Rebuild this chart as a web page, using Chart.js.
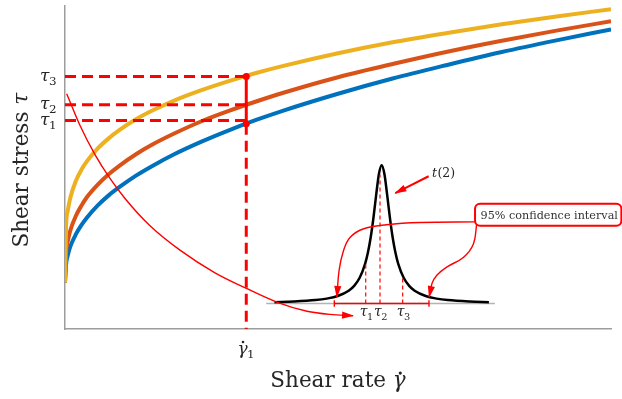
<!DOCTYPE html>
<html>
<head>
<meta charset="utf-8">
<script src="https://cdn.jsdelivr.net/npm/chart.js@4.4.1/dist/chart.umd.min.js"></script>
<style>
  html, body { margin: 0; padding: 0; background: #fff; }
  canvas { display: block; }
</style>
</head>
<body>
<canvas id="chart" width="622" height="399"></canvas>
<script>
// shear rate samples (axis runs 0..100)
const shearRate = [0, 0.2, 0.5, 1, 2, 3, 4, 6, 8, 10, 13, 16, 20, 25, 30, 35, 40, 50, 60, 70, 80, 90, 100];
// shear stress along the three flow curves (axis runs 0..100)
const stressUpper = [14.4, 31.9, 36.5, 40.7, 45.8, 49.2, 51.8, 55.8, 58.9, 61.5, 64.8, 67.5, 70.6, 73.8, 76.6, 79.1, 81.3, 85.2, 88.6, 91.5, 94.2, 96.6, 98.8];
const stressMid   = [14.4, 23.6, 27.1, 30.6, 35.0, 38.1, 40.7, 44.6, 47.8, 50.5, 54.0, 57.0, 60.4, 64.2, 67.4, 70.3, 73.0, 77.8, 81.9, 85.7, 89.1, 92.2, 95.1];
const stressLower = [14.4, 20.0, 22.7, 25.6, 29.3, 32.1, 34.4, 38.2, 41.3, 43.9, 47.4, 50.4, 54.0, 57.9, 61.4, 64.6, 67.5, 72.7, 77.4, 81.6, 85.6, 89.2, 92.6];

// chosen shear rate and the three stresses read at it
const gammaSel = 33.2;
const tauLevels = [64.4, 69.3, 78.0];
const tauSubs = ['1', '2', '3'];
const dotLevels = [78.0, 63.4];

// inset: t(2) density
const tGrid = [-9.75, -8, -6, -5, -4, -3, -2.5, -2, -1.5, -1.25, -1, -0.75, -0.5, -0.25, 0,
  0.25, 0.5, 0.75, 1, 1.25, 1.5, 2, 2.5, 3, 4, 5, 6, 8, 9.75];
const tDensity = [0.0034, 0.0050, 0.0087, 0.0125, 0.0191, 0.0326, 0.0451, 0.0657, 0.1021, 0.1304, 0.1688, 0.2189, 0.2778, 0.3313, 0.354,
  0.3313, 0.2778, 0.2189, 0.1688, 0.1304, 0.1021, 0.0657, 0.0451, 0.0326, 0.0191, 0.0125, 0.0087, 0.0050, 0.0034];
const tBase = [-10.5, 10.3];
const ciBounds = [-4.303, 4.303];
const tauT = [-1.45, -0.15, 1.91];
const tauTop = [0.107, 0.33, 0.071];

// annotation arrows, in main axis units
const arrowToInset = [[0.31, 72.7], [2.75, 62.88], [5.49, 53.89], [8.24, 46.53], [10.99, 40.34], [15.57, 31.9],
  [21.06, 24.36], [27.47, 17.36], [33.33, 12.45], [39.01, 8.16], [44.32, 5.49], [48.53, 4.51], [52.75, 4.08]];
const arrowCiLeft = [[75.4, 33.1], [65.0, 32.9], [58.9, 32.2], [54.6, 30.9], [52.2, 28.3], [51.0, 24.2], [50.2, 18.1], [49.8, 9.9]];
const arrowCiRight = [[75.4, 32.4], [74.8, 26.3], [73.0, 22.2], [69.9, 19.1], [68.1, 16.6], [67.2, 14.0], [66.7, 9.9]];
const arrowT2 = [[66.6, 47.2], [60.5, 42.0]];
const tLabelAt = [67.2, 47.0];
const ciBox = { x0: 75.1, x1: 101.9, y0: 31.9, y1: 38.7 };

const RED = '#ff0000';
const SERIF = '"DejaVu Serif", serif';

const xy = (xs, ys) => xs.map((x, i) => ({ x, y: ys[i] }));
const pts = list => list.map(([x, y]) => ({ x, y }));

function mathLabel(ctx, sym, sub, x, y, size, align) {
  const subSize = size * 0.7;
  ctx.font = `italic ${size}px ${SERIF}`;
  const w1 = ctx.measureText(sym).width;
  ctx.font = `${subSize}px ${SERIF}`;
  const w2 = ctx.measureText(sub).width;
  const x0 = align === 'right' ? x - w1 - w2 : x - (w1 + w2) / 2;
  ctx.textAlign = 'left';
  ctx.textBaseline = 'alphabetic';
  ctx.font = `italic ${size}px ${SERIF}`;
  ctx.fillText(sym, x0, y);
  ctx.font = `${subSize}px ${SERIF}`;
  ctx.fillText(sub, x0 + w1 - 0.5, y + size * 0.24);
  return { x0, w1 };
}

const arrowHeads = {
  id: 'arrowHeads',
  afterDatasetsDraw(chart) {
    const ctx = chart.ctx;
    chart.data.datasets.forEach((ds, i) => {
      if (!ds.arrow) return;
      const els = chart.getDatasetMeta(i).data;
      const tip = els[els.length - 1];
      const prev = els[els.length - 2];
      let dx = tip.x - (tip.cp1x ?? prev.x);
      let dy = tip.y - (tip.cp1y ?? prev.y);
      if (Math.hypot(dx, dy) < 0.5) { dx = tip.x - prev.x; dy = tip.y - prev.y; }
      ctx.save();
      ctx.translate(tip.x, tip.y);
      ctx.rotate(Math.atan2(dy, dx));
      ctx.fillStyle = ds.borderColor;
      ctx.beginPath();
      ctx.moveTo(1, 0);
      ctx.lineTo(-11, -3.6);
      ctx.lineTo(-11, 3.6);
      ctx.closePath();
      ctx.fill();
      ctx.restore();
    });
  }
};

const labels = {
  id: 'labels',
  afterDatasetsDraw(chart) {
    const { ctx, chartArea: area, scales: { x, y, xt, yt } } = chart;
    ctx.save();
    ctx.fillStyle = '#262626';

    // tau ticks on the stress axis
    tauLevels.forEach((v, i) => {
      mathLabel(ctx, 'τ', tauSubs[i], area.left - 8, y.getPixelForValue(v) + 4.5, 17, 'right');
    });

    // gamma_1 tick on the rate axis
    const g = mathLabel(ctx, 'γ', '1', x.getPixelForValue(gammaSel), area.bottom + 24.5, 17, 'center');
    ctx.beginPath();
    ctx.arc(g.x0 + g.w1 * 0.55, area.bottom + 24.5 - 11.5, 1.3, 0, Math.PI * 2);
    ctx.fill();

    // x title
    const xSize = 21.5;
    ctx.font = `${xSize}px ${SERIF}`;
    const xw1 = ctx.measureText('Shear rate ').width;
    ctx.font = `italic ${xSize}px ${SERIF}`;
    const xw2 = ctx.measureText('γ').width;
    const xs = (area.left + area.right) / 2 - (xw1 + xw2) / 2;
    const xb = area.bottom + 57.7;
    ctx.textAlign = 'left';
    ctx.font = `${xSize}px ${SERIF}`;
    ctx.fillText('Shear rate ', xs, xb);
    ctx.font = `italic ${xSize}px ${SERIF}`;
    ctx.fillText('γ', xs + xw1, xb);
    ctx.beginPath();
    ctx.arc(xs + xw1 + xw2 * 0.58, xb - 13.6, 1.6, 0, Math.PI * 2);
    ctx.fill();

    // y title
    ctx.save();
    ctx.translate(area.left - 37, (area.top + area.bottom) / 2 + 3);
    ctx.rotate(-Math.PI / 2);
    ctx.font = `${xSize}px ${SERIF}`;
    const yw1 = ctx.measureText('Shear stress ').width;
    ctx.font = `italic ${xSize}px ${SERIF}`;
    const yw2 = ctx.measureText('τ').width;
    const ys = -(yw1 + yw2) / 2;
    ctx.font = `${xSize}px ${SERIF}`;
    ctx.fillText('Shear stress ', ys, 0);
    ctx.font = `italic ${xSize}px ${SERIF}`;
    ctx.fillText('τ', ys + yw1, 0);
    ctx.restore();

    // inset tau labels
    tauT.forEach((t, i) => {
      mathLabel(ctx, 'τ', tauSubs[i], xt.getPixelForValue(t) + 1, yt.getPixelForValue(0) + 13, 14, 'center');
    });

    // t(2) label
    const lx = x.getPixelForValue(tLabelAt[0]);
    const ly = y.getPixelForValue(tLabelAt[1]);
    ctx.font = `italic 12.5px ${SERIF}`;
    ctx.fillText('t', lx, ly);
    const tw = ctx.measureText('t').width;
    ctx.font = `12.5px ${SERIF}`;
    ctx.fillText('(2)', lx + tw + 0.5, ly);

    // confidence interval box
    const bx0 = x.getPixelForValue(ciBox.x0);
    const bx1 = x.getPixelForValue(ciBox.x1);
    const by0 = y.getPixelForValue(ciBox.y1);
    const by1 = y.getPixelForValue(ciBox.y0);
    ctx.beginPath();
    ctx.roundRect(bx0, by0, bx1 - bx0, by1 - by0, 5);
    ctx.fillStyle = '#fff';
    ctx.fill();
    ctx.lineWidth = 2;
    ctx.strokeStyle = RED;
    ctx.stroke();
    ctx.fillStyle = '#333';
    ctx.font = `11.2px ${SERIF}`;
    ctx.textAlign = 'center';
    ctx.fillText('95% confidence interval', (bx0 + bx1) / 2 + 1, (by0 + by1) / 2 + 4);
    ctx.restore();
  }
};

const inset = { xAxisID: 'xt', yAxisID: 'yt' };
const thinRed = { borderColor: RED, borderWidth: 1.4 };

const datasets = [
  // annotation arrows
  { data: pts(arrowToInset), ...thinRed, cubicInterpolationMode: 'monotone', arrow: true },
  { data: pts(arrowCiLeft), ...thinRed, tension: 0.4, arrow: true },
  { data: pts(arrowCiRight), ...thinRed, tension: 0.4, arrow: true },
  { data: pts(arrowT2), borderColor: RED, borderWidth: 2, arrow: true },
  // inset: interval, tau markers, t(2) curve, base line
  { ...inset, data: xy(ciBounds, [0, 0]), ...thinRed, pointStyle: 'line', rotation: 90,
    pointRadius: 3.2, pointBorderColor: RED, pointBorderWidth: 1.4 },
  ...tauT.map((t, i) => ({ ...inset, data: xy([t, t], [0, tauTop[i]]), borderColor: RED, borderWidth: 1.2, borderDash: [4, 3] })),
  { ...inset, data: xy(tGrid, tDensity), borderColor: '#000', borderWidth: 2.5, cubicInterpolationMode: 'monotone' },
  { ...inset, data: xy(tBase, [0, 0]), borderColor: '#b4b4b4', borderWidth: 1.5 },
  // stresses read at gamma_1
  { data: xy([gammaSel, gammaSel], dotLevels), borderColor: RED, borderWidth: 3,
    pointRadius: 3.5, pointBackgroundColor: RED, pointBorderWidth: 0 },
  { data: xy([gammaSel, gammaSel], [dotLevels[1], 0]), borderColor: RED, borderWidth: 3, borderDash: [11, 6] },
  ...tauLevels.map(v => ({ data: xy([0, gammaSel], [v, v]), borderColor: RED, borderWidth: 3, borderDash: [11, 6] })),
  // flow curves
  { data: xy(shearRate, stressUpper), borderColor: '#EDB120', borderWidth: 4, cubicInterpolationMode: 'monotone' },
  { data: xy(shearRate, stressMid), borderColor: '#D95319', borderWidth: 4, cubicInterpolationMode: 'monotone' },
  { data: xy(shearRate, stressLower), borderColor: '#0072BD', borderWidth: 4, cubicInterpolationMode: 'monotone' }
];

const axisBorder = { display: true, color: '#9d9d9d', width: 1.5 };

new Chart(document.getElementById('chart'), {
  type: 'line',
  data: { datasets },
  options: {
    responsive: false,
    animation: false,
    devicePixelRatio: 1,
    events: [],
    layout: { padding: { left: 65, right: 11, top: 3, bottom: 70 } },
    elements: { point: { radius: 0 }, line: { fill: false } },
    plugins: { legend: { display: false }, tooltip: { enabled: false } },
    scales: {
      x: { type: 'linear', min: 0, max: 100, grid: { display: false, drawTicks: false }, ticks: { display: false }, border: axisBorder },
      y: { type: 'linear', min: 0, max: 100, grid: { display: false, drawTicks: false }, ticks: { display: false }, border: axisBorder },
      xt: { type: 'linear', display: false, min: -28.79, max: 20.85 },
      yt: { type: 'linear', display: false, min: -0.0653, max: 0.763 }
    }
  },
  plugins: [arrowHeads, labels]
});
</script>
</body>
</html>
